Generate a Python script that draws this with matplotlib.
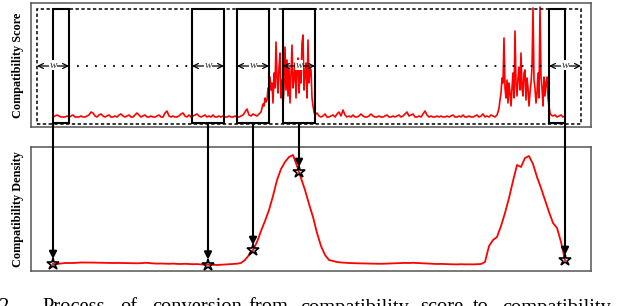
import numpy as np
import matplotlib
matplotlib.use("Agg")
import matplotlib.pyplot as plt
from matplotlib.patches import Rectangle, ConnectionPatch

# ---------------- data ----------------
# compatibility score (arbitrary units), recorded in five stretches
score_quiet_1 = [
    1, 2, 3, 2, 1, 1, 1, 2, 1, 2, 3, 1, 1, 1, 2, 1, 1, 2, 3, 6,
    5, 2, 1, 3, 4, 2, 1, 2, 3, 1, 1, 2, 1, 3, 4, 2, 1, 2, 3, 1,
    1, 3, 5, 3, 1, 2, 3, 1, 1, 2, 1, 1, 2, 3, 1, 1, 5, 7, 2, 1,
    2, 1, 1, 2, 4, 5, 2, 1, 3, 1, 2, 3, 4, 2, 1, 2, 3, 1, 2, 1,
    3, 1, 1, 2, 1, 2, 1, 1, 2, 1, 1, 2, 1,
    1, 2, 3, 6, 9, 3, 2, 4, 3, 2, 4,
]
score_active_1 = [
    6, 10, 14, 12, 20, 16, 18, 30, 22, 41, 28, 35, 15, 45, 30, 76,
    40, 25, 50, 65, 20, 38, 12, 30, 71, 28, 58, 22, 50, 15, 45, 73,
    30, 40, 55, 20, 48, 60, 25, 48, 35, 75, 83, 28, 45, 55, 20, 78,
    35, 50, 48, 20, 12, 6, 3, 4,
]
score_quiet_2 = [
    5, 2, 1, 2, 4, 1, 1, 2, 3, 1, 4, 6, 2, 8, 3, 1, 2, 1, 3, 1,
    1, 2, 4, 2, 1, 1, 2, 4, 2, 1, 1, 2, 1, 1, 2, 3, 1, 1, 2, 1,
    2, 3, 1, 2, 4, 6, 2, 3, 4, 1, 1, 2, 1, 4, 7, 3, 1, 2, 1, 1,
    2, 1, 2, 1, 1, 2, 1, 2, 3, 1, 1, 2, 1, 3, 1, 1, 2, 1, 1, 2,
    3, 1, 2, 4, 1, 2, 1, 3, 2, 1,
]
score_active_2 = [
    3, 6, 10, 18, 25, 40, 35, 80, 30, 20, 38, 15, 35, 25, 12, 30,
    45, 20, 87, 35, 22, 40, 51, 28, 65, 30, 22, 45, 48, 18, 40, 30,
    12, 25, 35, 50, 110, 38, 30, 15, 25, 45, 20, 111, 41, 30, 12, 41,
    22, 35, 41, 20, 12, 5, 3,
]
score_quiet_3 = [2, 3, 1, 2, 3, 1, 2]

score = score_quiet_1 + score_active_1 + score_quiet_2 + score_active_2 + score_quiet_3
score_pos = np.concatenate([
    np.arange(0, 2 * len(score_quiet_1), 2),
    np.arange(208, 208 + len(score_active_1)),
    np.arange(264, 264 + 2 * len(score_quiet_2), 2),
    np.arange(444, 444 + len(score_active_2)),
    np.arange(500, 500 + 2 * len(score_quiet_3), 2),
])

# compatibility density
density = [
    2, 2, 2.5, 3, 3, 3, 3.3, 3.5, 3.5, 3.5, 3.4, 3.3, 3.3, 3.2, 3.0, 3.0,
    3.1, 3.0, 2.8, 2.9, 2.8, 2.7, 2.8, 3.2, 3.0, 2.6, 2.4, 2.5, 2.3, 2.2,
    2.4, 2.1, 2.0, 2.2, 2.0, 1.8, 1.9, 1.6, 1.5, 1.4, 1.2, 1.0, 1.2, 1.5,
    1.8, 2.0, 2.3, 3.0, 6, 11, 16, 24, 35, 45, 56, 70, 86, 97, 104, 109,
    111, 100, 88, 76, 62, 49, 33, 20, 11, 6, 5, 4, 3.5, 3.2, 3.0, 2.8,
    2.7, 2.6, 2.6, 2.5, 2.4, 2.3, 2.2, 2.4, 2.5, 2.6, 2.8, 3.0, 3.1, 3.0,
    3.2, 3.0, 2.8, 2.7, 2.5, 2.3, 2.0, 2.1, 1.9, 1.8, 1.7, 1.6, 1.8, 1.6,
    1.7, 1.6, 1.8, 2.0, 4, 20, 26, 29, 40, 53, 68, 85, 101, 99, 108, 110,
    102, 89, 78, 66, 54, 43, 38, 24, 6,
]
density_pos = np.arange(0, 4 * len(density), 4)

# sliding-window centres and window width (same units as positions)
window_centers = [0, 155, 200, 246, 512]
window_w = 32
window_label = "w"

caption_num = "2"
caption_words = ["Process", "of", "conversion", "from", "compatibility",
                 "score", "to", "compatibility"]

# ---------------- figure ----------------
W, H = 626, 306
fig = plt.figure(figsize=(W / 100, H / 100), dpi=100)

def ax_rect(left, top, right, bottom):
    return [left / W, 1 - bottom / H, (right - left) / W, (bottom - top) / H]

ax1 = fig.add_axes(ax_rect(31, 3, 591, 127))
ax2 = fig.add_axes(ax_rect(31, 147, 591, 271))

for ax in (ax1, ax2):
    ax.set_xlim(-22, 538)
    ax.set_xticks([])
    ax.set_yticks([])
    for s in ax.spines.values():
        s.set_color("#555555")
        s.set_linewidth(1.1)

ax1.set_ylim(-9, 115)
ax2.set_ylim(-5, 119)

serif = ["Liberation Serif", "DejaVu Serif"]

# score signal
ax1.plot(score_pos, score, color="red", lw=1.2, zorder=2)

half = window_w / 2
y_top, y_bot, y_arr = 109, -5, 52
x0, x1 = score_pos[0], score_pos[-1]

# dashed padded frame
ax1.add_patch(Rectangle((x0 - half, y_bot - 1), (x1 + half) - (x0 - half),
                        y_top - y_bot + 1, fill=False, ec="black", lw=1.1,
                        ls=(0, (2.2, 1.6)), zorder=3))

# windows, arrows, labels
for c in window_centers:
    left = max(c - half, x0)
    right = min(c + half, x1)
    ax1.add_patch(Rectangle((left, y_bot), right - left, y_top - y_bot,
                            fill=False, ec="black", lw=1.5, zorder=4))
    ax1.annotate("", xy=(c - half, y_arr), xytext=(c + half, y_arr),
                 arrowprops=dict(arrowstyle="<->", lw=0.9, color="black",
                                 shrinkA=0, shrinkB=0, mutation_scale=9),
                 zorder=5)
    ax1.text(c, y_arr + 1, window_label, family=serif, style="italic",
             fontsize=8, color="#333333", ha="center", va="center",
             bbox=dict(facecolor="white", edgecolor="none", pad=0.1),
             zorder=6)

# dotted connectors between windows
for a, b in [(window_centers[0], window_centers[1]),
             (window_centers[3], window_centers[4])]:
    ax1.plot([a + half + 8, b - half - 4], [y_arr, y_arr], color="black",
             lw=1.3, ls=(0, (1, 4)), zorder=3)

# density curve
ax2.plot(density_pos, density, color="red", lw=1.3, zorder=2)

star_y = np.interp(window_centers, density_pos, density)
for c, sy in zip(window_centers, star_y):
    con = ConnectionPatch(xyA=(c, y_bot), coordsA=ax1.transData,
                          xyB=(c, sy), coordsB=ax2.transData,
                          arrowstyle="-|>", mutation_scale=11, lw=1.5,
                          color="black", shrinkA=0, shrinkB=3.5, zorder=7)
    fig.add_artist(con)
ax2.plot(window_centers, star_y, ls="none", marker="*", markersize=9,
         mfc="none", mec="black", mew=1.2, zorder=8, clip_on=False)

# y labels
fig.text(18 / W, 1 - 65.5 / H, "Compatibility Score", family=serif,
         fontweight="bold", fontsize=8.8, rotation=90, ha="center",
         va="center")
fig.text(18 / W, 1 - 209.5 / H, "Compatibility Density", family=serif,
         fontweight="bold", fontsize=8.8, rotation=90, ha="center",
         va="center")

# caption (cut off at the bottom of the image, as in the source)
base_y = 1 - 312.5 / H
fig.text(-2 / W, base_y, caption_num, family=serif, fontsize=14.8,
         va="baseline", ha="left")
word_x = [42, 120, 152, 248, 300, 420, 473, 502]
for wx, word in zip(word_x, caption_words):
    fig.text(wx / W, base_y, word, family=serif, fontsize=14.8,
             va="baseline", ha="left")

fig.savefig("out.png", dpi=100)
